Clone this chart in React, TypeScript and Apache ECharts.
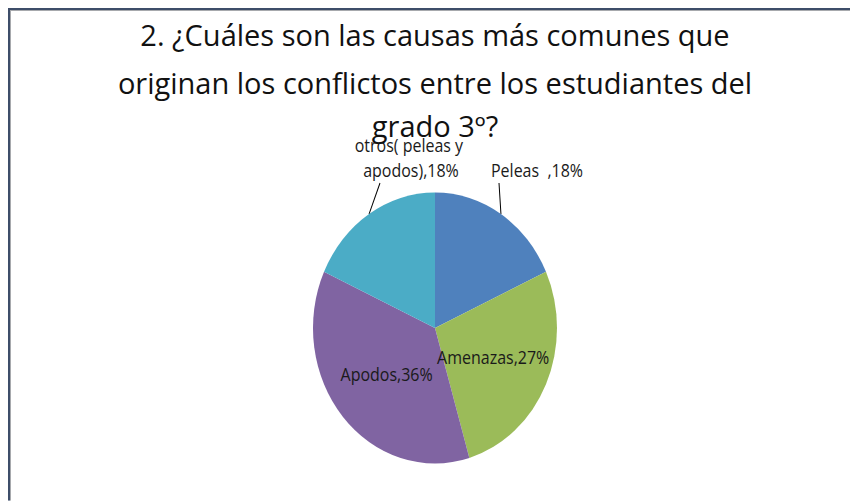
import React, { useEffect, useRef } from "react";
import * as echarts from "echarts";

// ---- data ----
const TITLE_LINES = [
  "2. ¿Cuáles son las causas más comunes que",
  "originan los conflictos entre los estudiantes del",
  "grado 3º?",
];
const CATEGORIES = ["Peleas  ", "Amenazas", "Apodos", "otros( peleas y apodos)"];
const VALUES = [2, 3, 4, 2];
const COLORS = ["#4F81BD", "#9BBB59", "#8064A2", "#4BACC6"];
const LABEL_POSITIONS = ["outside", "inside", "inside", "outside"];

// ---- layout ----
const SY = 1.11; // the original picture is stretched vertically
const W = 842;
const H = 444;
const CX = 427;
const CY = 288.3;
const R = 122;
const FONT = "'Open Sans', sans-serif";
const TITLE_Y = [23.8, 66.7, 105.8];

export default function App() {
  const ref = useRef<HTMLDivElement>(null);

  useEffect(() => {
    document.documentElement.style.overflow = "hidden";
    document.body.style.overflow = "hidden";
    document.body.style.margin = "8px 0 0 8px";
    if (!ref.current) return;
    const chart = echarts.init(ref.current, null, { renderer: "svg" });

    const option: any = {
      animation: false,
      backgroundColor: "#ffffff",
      graphic: [
        { type: "rect", silent: true, z: 100, shape: { x: 0, y: 0, width: 2, height: H }, style: { fill: "#3E4D69" } },
        { type: "rect", silent: true, z: 100, shape: { x: 2, y: 0, width: 1, height: H }, style: { fill: "#A7A9AD" } },
        { type: "rect", silent: true, z: 101, shape: { x: 0, y: 0, width: W, height: 2 / SY }, style: { fill: "#3E4D69" } },
        { type: "rect", silent: true, z: 100, shape: { x: 2, y: 2 / SY, width: W, height: 1 / SY }, style: { fill: "#A7A9AD" } },
        ...TITLE_LINES.map((t, i) => ({
          type: "text",
          silent: true,
          x: CX,
          y: TITLE_Y[i],
          scaleY: 1 / SY,
          z: 50,
          style: {
            text: t,
            fill: "#111111",
            fontSize: 29,
            fontFamily: FONT,
            align: "center",
            verticalAlign: "middle",
          },
        })),
      ],
      series: [
        {
          type: "pie",
          center: [CX, CY],
          radius: R,
          startAngle: 90,
          clockwise: true,
          avoidLabelOverlap: false,
          percentPrecision: 2,
          emphasis: { disabled: true },
          itemStyle: { borderWidth: 0 },
          label: {
            fontFamily: FONT,
            fontSize: 16,
            color: "#1a1a1a",
            formatter: (p: any) => `${p.name},${Math.round(p.percent)}%`,
          },
          labelLine: {
            lineStyle: { color: "#000000", width: 1 },
            length: 10,
            length2: 10,
          },
          data: CATEGORIES.map((name, i) => ({
            name,
            value: VALUES[i],
            itemStyle: { color: COLORS[i] },
            label:
              i === 3
                ? { position: LABEL_POSITIONS[i], width: 118, overflow: "break", lineHeight: 22.6, align: "center" }
                : { position: LABEL_POSITIONS[i] },
            labelLine: { show: LABEL_POSITIONS[i] === "outside" },
          })),
          labelLayout: (params: any) => {
            const start = params.labelLinePoints ? params.labelLinePoints[0] : null;
            if (params.dataIndex === 0) {
              const x = 483;
              const y = 146.1;
              const end = [x + 8, y + 11.6];
              return {
                x,
                y,
                align: "left",
                verticalAlign: "middle",
                labelLinePoints: start ? [start, end, end] : undefined,
              };
            }
            if (params.dataIndex === 3) {
              const x = 403;
              const y = 134.8;
              const end = [x - 31, y + 22.9];
              return {
                x,
                y,
                align: "center",
                verticalAlign: "middle",
                labelLinePoints: start ? [start, end, end] : undefined,
              };
            }
            return {};
          },
        },
      ],
    };

    chart.setOption(option);
    return () => chart.dispose();
  }, []);

  return (
    <div style={{ width: W, height: 493, overflow: "hidden", position: "relative", background: "#fff" }}>
      <div
        ref={ref}
        style={{ width: W, height: H, transform: `scaleY(${SY})`, transformOrigin: "0 0" }}
      />
    </div>
  );
}
